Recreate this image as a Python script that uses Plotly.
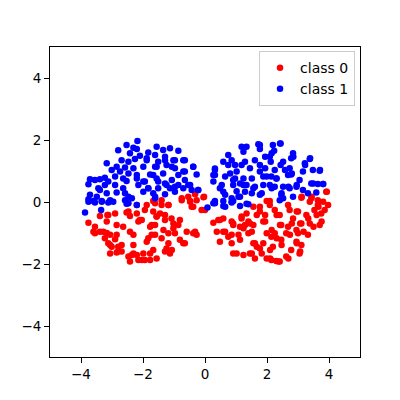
import plotly.graph_objects as go

# class 1 (blue) points
blue_x = [-2.18,-2.53,-2.31,-2.80,-2.20,-2.42,-2.10,-2.69,-2.47,-2.26,-3.17,-2.85,-2.58,-2.31,-3.01,-2.74,-2.47,-2.20,-2.90,-2.64,
          -3.71,-3.55,-3.39,-3.23,-3.12,-2.53,-2.20,-3.76,-3.44,-3.23,-2.90,-2.64,-2.15,-3.39,-3.17,-2.85,-2.58,-3.71,-3.49,-3.76,
          -3.60,-3.33,-3.06,-2.58,-2.36,
          -1.56,-1.35,-1.13,-0.86,-1.83,-1.61,-1.29,-1.02,-1.88,-1.51,-1.24,-0.70,-1.99,-1.61,-0.97,-0.38,-1.77,-1.35,-0.70,-0.27,
          -1.56,-1.07,-0.65,-1.99,-1.29,-0.86,-0.48,-1.83,-1.51,-1.13,-0.70,-0.43,-0.22,-1.99,-1.67,-1.29,-0.97,-1.61,
          -3.76,-3.55,-3.33,-3.12,-2.96,-2.53,-2.20,-3.87,-3.35,0.08,
          -1.88,-1.56,-1.29,-1.07,-0.97,-0.65,-0.38,-0.65,-0.86,-1.67,-1.51,-1.24,-0.97,-0.54,-0.22,-1.83,-1.61,-2.47,-2.47,-1.94,
          1.18,1.34,1.72,1.77,1.24,0.75,0.86,0.59,1.29,1.61,1.94,0.97,1.18,1.77,0.32,0.81,1.45,1.94,0.65,0.97,
          1.24,0.32,1.88,1.51,0.27,0.54,1.13,0.91,1.34,1.61,1.88,0.59,1.02,1.29,1.51,1.77,0.86,1.08,0.32,0.59,
          2.44,2.19,2.23,2.09,2.12,2.84,2.78,3.38,3.22,2.52,2.44,2.25,2.73,2.78,2.68,2.14,2.30,3.16,3.48,3.70,
          3.05,3.43,3.64,3.81,2.09,2.25,2.52,2.73,2.95,3.16,3.32,3.59,2.46,2.52,2.84,
          0.27,0.59,0.86,1.13,1.34,2.41,
          1.77,2.42,2.15,2.85,3.39,3.23,2.58,2.80,2.31,1.99,1.77,3.71,3.49,3.81,2.96,2.69,2.47,2.15,1.83,1.56,
          1.24,0.91,0.48,0.27,0.32,0.75,1.02,0.65,0.91,1.13,0.32,0.65,0.86,1.40]
blue_y = [1.97,1.84,1.75,1.67,1.71,1.57,1.49,1.35,1.30,1.39,1.25,1.14,1.11,1.09,1.03,0.98,0.92,0.87,0.82,0.76,
          0.73,0.71,0.73,0.78,0.66,0.68,0.76,0.57,0.44,0.55,0.55,0.44,0.55,0.39,0.28,0.31,0.28,0.23,0.17,0.09,
          0.03,0.03,0.06,0.06,0.12,
          1.78,1.68,1.73,1.65,1.60,1.52,1.46,1.35,1.35,1.30,1.19,1.35,1.14,1.14,1.09,1.14,0.89,0.92,0.98,0.89,
          0.76,0.71,0.71,0.66,0.60,0.55,0.55,0.44,0.44,0.44,0.44,0.39,0.39,0.33,0.28,0.25,0.33,0.12,
          0.01,-0.02,0.01,-0.02,0.01,-0.06,-0.10,-0.34,-0.26,-0.18,
          1.41,1.14,1.35,1.14,1.35,1.35,1.14,0.98,0.87,0.87,0.66,0.55,0.49,0.55,0.39,0.44,0.17,-0.04,0.17,0.66,
          1.78,1.78,1.86,1.71,1.62,1.52,1.35,1.30,1.30,1.35,1.46,1.19,1.19,1.19,1.03,0.92,1.09,1.09,0.82,0.76,
          0.76,0.87,0.82,0.76,0.66,0.55,0.60,0.55,0.55,0.49,0.55,0.33,0.35,0.33,0.28,0.23,0.12,0.17,0.03,0.03,
          1.89,1.84,1.65,1.46,1.30,1.57,1.41,1.39,1.25,1.30,1.19,1.03,1.09,0.89,0.87,0.82,0.76,0.98,1.03,1.01,
          0.71,0.60,0.58,0.58,0.55,0.49,0.49,0.44,0.49,0.39,0.28,0.31,0.23,0.12,0.17,
          -0.04,-0.13,-0.02,-0.13,-0.06,0.06,
          1.84,1.89,1.57,1.46,1.41,1.19,1.03,0.92,0.76,0.82,0.98,1.03,0.60,0.58,0.55,0.49,0.28,0.44,0.28,0.44,
          0.55,0.71,0.44,0.87,1.08,1.19,0.98,0.23,0.03,0.17,-0.04,-0.15,0.01,-0.07]

# class 0 (red) points
red_x = [-1.67,-1.40,-0.75,-0.54,-0.32,-0.05,-0.48,-0.27,
         -3.39,-3.15,-2.90,-2.53,-2.42,-2.20,-3.76,-3.17,-2.85,-2.64,-2.15,-3.55,-3.39,-3.17,-3.06,-2.85,-2.42,-2.31,-3.55,
         -2.90,-3.23,-3.12,-3.01,-2.80,-2.31,-3.06,-2.85,-2.69,-2.31,-2.47,-2.20,-2.15,-2.42,
         -1.40,-1.18,-0.75,-0.48,-0.38,-1.94,-1.67,-1.45,-1.29,-1.29,-1.08,-1.02,-0.81,-1.56,-2.04,-1.77,-1.61,-1.34,-1.18,
         -1.02,-0.97,-0.59,-0.32,-0.27,-0.81,-0.70,-1.61,-1.83,-1.88,-1.18,-1.24,-1.07,-1.13,-1.67,-1.77,-1.99,-2.04,-1.77,-1.56,
         -2.20,-1.88,-1.61,-1.18,-0.11,-0.43,-2.10,-1.56,-1.72,-0.86,-0.38,-1.72,-1.40,-0.65,-1.29,-1.94,-2.36,-2.80,-2.69,-3.06,
         -3.28,-3.60,-3.12,-2.47,
         -0.03,1.99,3.11,3.43,3.64,3.91,3.81,2.09,
         0.00,0.27,0.43,0.59,0.86,1.18,1.34,1.56,1.77,1.94,0.91,1.13,1.29,1.56,0.65,0.38,0.75,1.08,1.40,1.51,
         0.48,0.86,1.56,1.67,1.88,1.99,1.02,1.24,1.51,1.61,1.83,1.99,1.88,1.40,
         2.09,2.68,3.38,3.64,3.97,2.25,2.73,3.53,3.86,2.41,3.00,3.27,3.75,2.84,3.11,3.38,3.70,2.46,2.68,2.95,
         2.25,2.62,3.00,3.32,2.14,2.46,2.95,3.11,2.19,2.78,3.05,2.62,2.14,2.41,2.30,
         3.12,3.44,3.93,1.77,2.31,2.96,3.66,3.60,3.33,3.07,3.76,3.50,2.80,2.42,2.15,1.94,1.67,1.45,1.18,1.24,
         0.91,0.48,0.59,0.86,1.13,1.61,2.31,2.74,3.18,2.96,2.47,2.10,1.77,1.45,0.91,2.10,2.37,2.69,3.07]
red_y = [0.03,0.06,0.12,0.17,0.25,0.15,0.03,0.06,
         -0.45,-0.42,-0.37,-0.34,-0.45,-0.37,-0.67,-0.63,-0.74,-0.80,-0.63,-0.80,-0.96,-1.00,-1.06,-1.06,-0.96,-1.06,-1.01,
         -1.20,-1.17,-1.33,-1.44,-1.44,-1.39,-1.66,-1.63,-1.60,-1.66,-1.76,-1.71,-1.87,-1.92,
         -0.10,-0.10,0.06,0.01,-0.15,-0.26,-0.31,-0.37,-0.42,-0.58,-0.53,-0.69,-0.58,-0.47,-0.58,-0.80,-0.74,-0.90,-1.01,
         -0.85,-1.01,-0.96,-0.96,-1.06,-1.22,-1.33,-1.06,-1.17,-1.28,-1.33,-1.50,-1.55,-1.66,-1.55,-1.66,-1.66,-1.87,-1.87,-1.82,
         -0.10,-0.10,-0.04,-0.10,-0.26,-0.15,-0.58,-0.47,-0.74,-0.74,-1.01,-1.06,-1.17,-1.33,-1.60,-1.87,-1.71,-1.60,-1.39,-1.39,
         -0.96,-0.96,-0.42,-0.31,
         0.17,0.03,0.14,0.12,0.06,0.33,0.01,0.03,
         -0.26,-0.67,-0.58,-0.53,-0.63,-0.47,-0.37,-0.15,-0.31,-0.42,-0.74,-0.80,-0.74,-0.74,-0.96,-0.96,-1.12,-1.06,-1.01,-0.96,
         -1.28,-1.33,-1.33,-1.44,-1.33,-1.01,-1.66,-1.71,-1.66,-1.82,-1.66,-1.82,-0.63,-0.63,
         -0.10,-0.10,0.01,-0.10,-0.10,-0.26,-0.26,-0.26,-0.26,-0.42,-0.31,-0.42,-0.37,-0.53,-0.69,-0.69,-0.74,-0.74,-0.80,-0.90,
         -1.01,-1.01,-1.01,-1.06,-1.12,-1.22,-1.28,-1.39,-1.44,-1.55,-1.66,-1.76,-1.87,-1.92,-1.90,
         0.17,0.17,0.33,-0.15,-0.42,-0.31,-0.15,-0.42,-0.53,-0.69,-0.63,-0.80,-0.69,-0.74,-0.90,-0.63,-0.42,-0.69,-0.53,-0.85,
         -0.69,-0.58,-0.96,-1.06,-1.22,-1.33,-1.17,-1.06,-0.96,-1.33,-1.39,-1.55,-1.50,-1.66,-1.66,-1.82,-1.92,-1.82,-1.60]

ticks = [-4, -2, 0, 2, 4]
tick_labels = ["−4", "−2", "0", "2", "4"]

fig = go.Figure()
fig.add_trace(go.Scatter(x=red_x, y=red_y, mode="markers", name="class 0",
                         marker=dict(color="red", size=6.5, line=dict(width=0))))
fig.add_trace(go.Scatter(x=blue_x, y=blue_y, mode="markers", name="class 1",
                         marker=dict(color="blue", size=6.5, line=dict(width=0))))

axis_common = dict(range=[-5, 5], tickvals=ticks, ticktext=tick_labels,
                   showgrid=False, zeroline=False, showline=True, mirror=True,
                   linecolor="black", linewidth=1, ticks="outside", ticklen=5,
                   tickcolor="black", tickfont=dict(family="DejaVu Sans", size=13.5, color="black"))
fig.update_xaxes(**axis_common)
fig.update_yaxes(**axis_common)

fig.update_layout(
    width=392, height=392,
    margin=dict(l=42, r=40, t=39, b=43),
    plot_bgcolor="white", paper_bgcolor="white",
    legend=dict(x=0.984, y=0.987, xanchor="right", yanchor="top",
                bgcolor="rgba(255,255,255,0.8)", bordercolor="#cccccc", borderwidth=1,
                font=dict(family="DejaVu Sans", size=14, color="black"),
                itemwidth=30, tracegroupgap=0),
    showlegend=True,
)

fig.write_html("out.html")
